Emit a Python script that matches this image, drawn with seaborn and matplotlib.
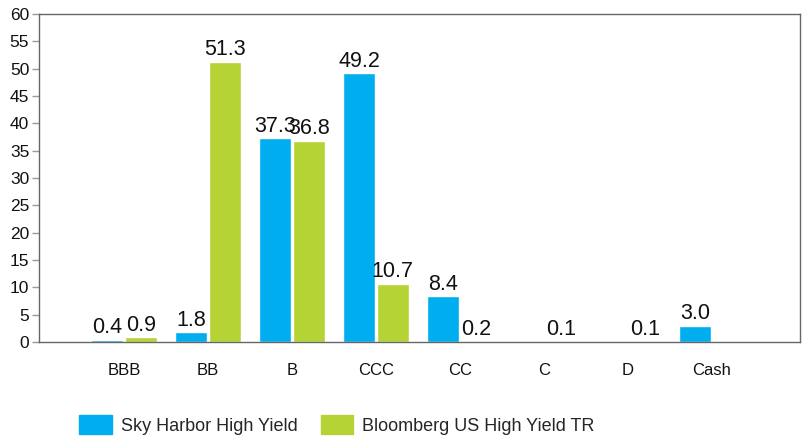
import numpy as np
import pandas as pd
import matplotlib
matplotlib.use("Agg")
import matplotlib.pyplot as plt
import seaborn as sns

ratings = ["BBB", "BB", "B", "CCC", "CC", "C", "D", "Cash"]
sky_harbor = [0.4, 1.8, 37.3, 49.2, 8.4, np.nan, np.nan, 3.0]
bloomberg = [0.9, 51.3, 36.8, 10.7, 0.2, 0.1, 0.1, np.nan]
series_names = ["Sky Harbor High Yield", "Bloomberg US High Yield TR"]
y_ticks = list(range(0, 61, 5))

df = pd.DataFrame({
    "rating": ratings * 2,
    "value": sky_harbor + bloomberg,
    "series": [series_names[0]] * len(ratings) + [series_names[1]] * len(ratings),
}).dropna()

sns.set_theme(style="white")
plt.rcParams["font.family"] = ["Liberation Sans", "DejaVu Sans"]

fig = plt.figure(figsize=(8.06, 4.38), dpi=100)
ax = fig.add_axes([0.0484, 0.2192, 0.9442, 0.7488])

palette = {series_names[0]: "#00AEEF", series_names[1]: "#B5D334"}
sns.barplot(data=df, x="rating", y="value", hue="series", order=ratings,
            hue_order=series_names, palette=palette, width=0.8, gap=0.04,
            saturation=1, ax=ax, legend=False)

for cont in ax.containers:
    ax.bar_label(cont, fmt="{:.1f}", fontsize=15.5, padding=1, color="#111111")

ax.set_ylim(0, 60)
ax.set_xlim(-1.01, 8.05)
ax.set_yticks(y_ticks)
ax.set_xlabel("")
ax.set_ylabel("")
ax.tick_params(axis="y", which="both", left=True, length=5, width=1,
               color="#999999", labelsize=12.5, pad=2, labelcolor="#111111")
ax.tick_params(axis="x", bottom=False, labelsize=12, pad=9, labelcolor="#111111")
for s in ax.spines.values():
    s.set_color("#666666")
    s.set_linewidth(1.0)

handles = [plt.Rectangle((0, 0), 1, 1, color=palette[n]) for n in series_names]
fig.legend(handles, series_names, loc="center", bbox_to_anchor=(0.418, 0.03),
           ncol=2, frameon=False, fontsize=13, handlelength=1.78, handleheight=1.22,
           columnspacing=1.3, handletextpad=0.5)

fig.savefig("out.png", dpi=100)
